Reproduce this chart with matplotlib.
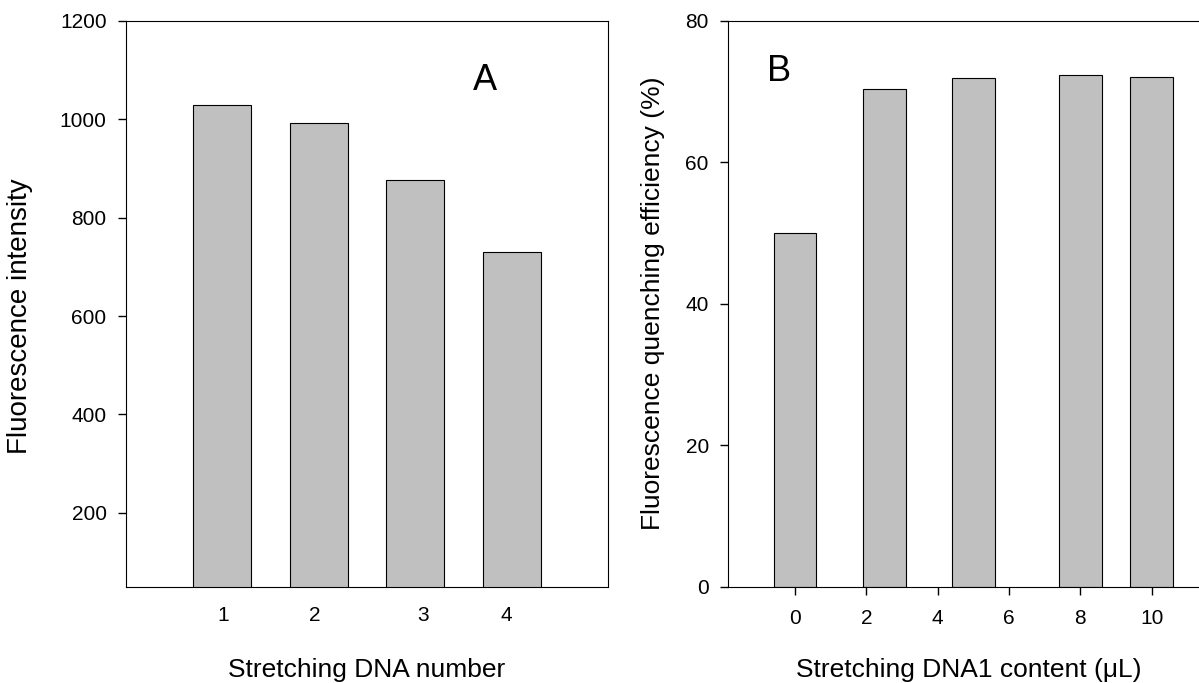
import numpy as np
import matplotlib.pyplot as plt

plt.rcParams['font.family'] = ['Liberation Sans', 'DejaVu Sans']

# panel A data
a_pos = [1, 2, 3, 4]
a_vals = [1028, 993, 877, 730]
a_tick_pos = [1.01, 1.96, 3.08, 3.95]
a_tick_labels = ['1', '2', '3', '4']

# panel B data
b_pos = [0, 2.5, 5, 8, 10]
b_vals = [50.0, 70.3, 71.9, 72.3, 72.1]
b_ticks = [0, 2, 4, 6, 8, 10]

bar_color = '#c0c0c0'

fig = plt.figure(figsize=(11.99, 6.83), dpi=100)

# =========================
# A
# =========================
axA = fig.add_axes([0.1051, 0.141, 0.402, 0.8287])
axA.bar(a_pos, a_vals, width=0.6, color=bar_color, edgecolor='black', linewidth=0.8)
axA.set_xlim(0, 5)
axA.set_ylim(50, 1200)
axA.set_yticks([200, 400, 600, 800, 1000, 1200])
axA.set_xticks(a_tick_pos)
axA.set_xticklabels(a_tick_labels)
axA.tick_params(axis='x', length=0, pad=14, labelsize=15)
axA.tick_params(axis='y', direction='out', length=6, width=1, pad=8, labelsize=15)
axA.set_xlabel('Stretching DNA number', fontsize=19)
axA.set_ylabel('Fluorescence intensity', fontsize=20)
axA.xaxis.set_label_coords(0.5, -0.126)
axA.yaxis.set_label_coords(-0.193, 0.478)
axA.text(0.745, 0.895, 'A', transform=axA.transAxes, fontsize=26, ha='center', va='center')

# =========================
# B
# =========================
axB = fig.add_axes([0.6074, 0.141, 0.4017, 0.8287])
axB.bar(b_pos, b_vals, width=1.2, color=bar_color, edgecolor='black', linewidth=0.8)
axB.set_xlim(-1.87, 11.63)
axB.set_ylim(0, 80)
axB.set_xticks(b_ticks)
axB.set_yticks([0, 20, 40, 60, 80])
axB.tick_params(axis='x', direction='out', length=6, width=1, pad=10, labelsize=15)
axB.tick_params(axis='y', direction='out', length=6, width=1, pad=8, labelsize=15)
axB.set_xlabel('Stretching DNA1 content (\u03bcL)', fontsize=19)
axB.set_ylabel('Fluorescence quenching efficiency (%)', fontsize=19)
axB.xaxis.set_label_coords(0.5, -0.126)
axB.yaxis.set_label_coords(-0.131, 0.5)
axB.text(0.105, 0.91, 'B', transform=axB.transAxes, fontsize=26, ha='center', va='center')
axB.spines['right'].set_visible(False)

fig.savefig('out.png', dpi=100)
